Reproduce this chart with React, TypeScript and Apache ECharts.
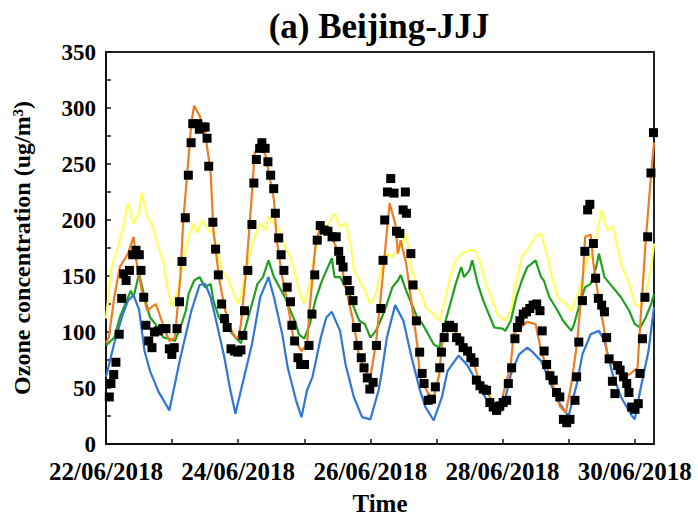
import React, { useEffect, useRef } from "react";
import * as echarts from "echarts";

// Time is expressed in hours since 22/06/2018 00:00
const dateLabels = ["22/06/2018", "24/06/2018", "26/06/2018", "28/06/2018", "30/06/2018"];
const yTickLabels = [0, 50, 100, 150, 200, 250, 300, 350];

const obsHours = [1.2, 1.8, 2.8, 3.6, 4.8, 5.7, 6.4, 7.3, 8.5, 9.7, 10.9, 12.1, 12.7, 13.7, 14.5, 15.5, 16.7, 17.6, 19, 20.6, 21.8, 23, 23.9, 24.8, 25.8, 26.7, 27.6, 28.8, 29.9, 30.9, 31.5, 33.3, 33.9, 35.2, 36, 36.7, 37.3, 38.8, 39.8, 40.8, 42, 43, 44, 45.4, 46.7, 47.9, 49, 49.7, 50.3, 51.5, 53, 53.7, 54.6, 55.8, 56.6, 57.8, 58.8, 59.8, 60.9, 61.5, 62.7, 63.6, 64.6, 65.8, 67, 67.5, 68.5, 69.7, 70.7, 72.1, 73.7, 74.8, 75.8, 76.7, 77.8, 79.2, 80.6, 82.1, 83.6, 84.5, 85.2, 86.1, 87.6, 88.5, 89.7, 90.9, 91.5, 92.7, 93.7, 94.9, 95.8, 97, 98.2, 99.8, 100.6, 101.2, 102.2, 103.4, 104.6, 105.5, 106.7, 107.9, 108.7, 109.1, 110.7, 111.5, 112.7, 113.9, 114.8, 115.5, 117, 118.2, 119.6, 121.2, 121.8, 122.8, 123.6, 124.8, 126.1, 127.3, 128.5, 129.7, 131.3, 132.5, 133.7, 134.5, 135.8, 137, 138.2, 139.4, 140.6, 141.8, 143, 144.2, 145.5, 146.1, 147.3, 148.5, 149.4, 150.3, 151.5, 152.7, 153.9, 155.1, 156.4, 157.6, 158.4, 159.1, 160, 161.2, 162.4, 163.6, 164.8, 166.1, 167.3, 168.5, 170.3, 170.9, 171.7, 173, 173.9, 174.9, 175.7, 177, 177.8, 178.8, 180, 181, 181.8, 182.7, 183.9, 184.8, 185.8, 186.7, 187.9, 189.1, 189.9, 190.9, 192.1, 193.3, 193.9, 194.8, 195.7, 196.7, 197.9, 198.8];
const obsValues = [42, 54, 62, 73, 98, 130, 152, 146, 155, 169, 173, 169, 155, 131, 106, 92, 86, 100, 101, 103, 103, 85, 80, 86, 103, 127, 163, 202, 240, 269, 286, 286, 281, 283, 283, 273, 248, 198, 174, 151, 125, 112, 104, 85, 83, 82, 84, 97, 119, 155, 196, 233, 254, 264, 269, 264, 252, 240, 228, 206, 184, 169, 155, 140, 127, 106, 92, 77, 71, 71, 88, 116, 151, 182, 195, 191, 190, 185, 185, 172, 164, 158, 146, 137, 128, 104, 88, 77, 68, 59, 49, 55, 88, 121, 164, 200, 225, 237, 224, 190, 188, 209, 225, 206, 170, 142, 110, 82, 63, 54, 39, 40, 51, 68, 82, 95, 104, 106, 104, 95, 92, 86, 83, 77, 73, 57, 52, 49, 48, 37, 33, 30, 34, 37, 39, 54, 68, 94, 104, 110, 116, 118, 121, 124, 125, 119, 101, 83, 71, 61, 57, 46, 42, 22, 19, 22, 39, 60, 91, 128, 172, 209, 214, 179, 148, 130, 124, 118, 95, 76, 56, 45, 70, 66, 60, 54, 46, 33, 31, 36, 63, 94, 131, 185, 242, 278];

const orangeHours = [0, 1, 3, 5, 8, 10, 11, 13, 15, 18, 19, 21, 23, 25, 27, 28, 30, 31, 32, 34, 36, 38, 39, 41, 43, 45, 47, 48, 49, 51, 53, 54, 56, 58, 61, 62, 64, 66, 68, 71, 73, 74, 76, 78, 80, 82, 85, 87, 90, 92, 95, 96, 98, 100, 102, 103, 105, 106, 107, 109, 111, 113, 114, 117, 119, 121, 122, 124, 126, 128, 130, 133, 135, 138, 140, 142, 144, 147, 148, 151, 153, 156, 158, 161, 163, 165, 167, 169, 171, 173, 174, 176, 177, 179, 181, 182, 184, 186, 188, 190, 193, 194, 196, 198, 199];
const orangeValues = [90, 95, 131, 158, 170, 185, 164, 137, 119, 125, 119, 104, 92, 95, 149, 197, 257, 287, 302, 293, 278, 242, 191, 149, 122, 104, 95, 95, 107, 158, 224, 260, 269, 257, 218, 182, 149, 125, 95, 83, 89, 122, 176, 197, 191, 185, 167, 140, 107, 77, 62, 60, 89, 137, 190, 215, 197, 170, 182, 161, 125, 89, 60, 45, 42, 62, 89, 101, 104, 95, 86, 77, 60, 48, 39, 33, 42, 71, 98, 105, 109, 107, 83, 62, 48, 33, 28, 54, 89, 143, 185, 187, 161, 128, 101, 80, 71, 70, 60, 62, 68, 107, 182, 242, 269];

const yellowHours = [0, 2, 4, 6, 8, 10, 12, 13, 15, 17, 19, 21, 22, 24, 26, 28, 30, 32, 33, 35, 37, 39, 41, 42, 44, 46, 48, 50, 52, 54, 56, 58, 59, 61, 63, 65, 67, 69, 70, 72, 74, 76, 78, 79, 81, 83, 85, 87, 89, 90, 92, 94, 96, 98, 100, 102, 104, 106, 107, 109, 111, 113, 115, 116, 119, 121, 123, 125, 127, 129, 132, 134, 136, 138, 140, 142, 145, 147, 149, 151, 153, 156, 158, 160, 162, 164, 167, 169, 171, 173, 175, 176, 178, 180, 182, 184, 186, 187, 190, 192, 194, 196, 198, 199];
const yellowValues = [112, 158, 173, 191, 215, 197, 206, 224, 203, 194, 176, 161, 143, 122, 137, 161, 185, 197, 188, 200, 191, 188, 167, 155, 149, 137, 125, 143, 167, 185, 197, 191, 203, 197, 191, 176, 167, 149, 137, 125, 143, 173, 188, 191, 197, 206, 194, 197, 176, 155, 146, 137, 125, 134, 158, 170, 167, 173, 176, 188, 155, 140, 131, 122, 116, 110, 128, 149, 164, 170, 173, 173, 161, 143, 131, 116, 110, 119, 146, 167, 173, 185, 188, 170, 149, 131, 125, 119, 131, 149, 167, 167, 185, 209, 191, 194, 173, 161, 143, 125, 122, 134, 158, 179];

const greenHours = [0, 3, 5, 7, 9, 10, 12, 14, 16, 18, 19, 21, 23, 25, 27, 29, 30, 32, 34, 36, 38, 39, 41, 43, 45, 47, 49, 51, 53, 55, 57, 59, 61, 63, 65, 67, 69, 70, 72, 74, 76, 78, 79, 82, 83, 85, 87, 89, 90, 92, 94, 96, 98, 100, 102, 104, 106, 107, 109, 111, 113, 115, 117, 119, 121, 123, 125, 127, 129, 130, 132, 133, 135, 137, 139, 141, 144, 145, 147, 149, 151, 153, 156, 158, 159, 161, 164, 166, 169, 170, 172, 174, 176, 178, 179, 181, 183, 185, 187, 190, 192, 194, 196, 198, 199];
const greenValues = [88, 95, 113, 125, 137, 131, 152, 131, 113, 107, 101, 95, 94, 92, 104, 119, 134, 146, 149, 140, 143, 128, 113, 107, 101, 95, 90, 107, 125, 143, 149, 164, 149, 140, 131, 119, 107, 98, 94, 107, 128, 143, 149, 166, 149, 149, 140, 131, 122, 110, 107, 95, 101, 112, 125, 140, 146, 151, 137, 125, 113, 107, 98, 89, 86, 107, 125, 143, 158, 149, 155, 164, 143, 128, 116, 104, 103, 101, 110, 131, 146, 158, 164, 149, 146, 131, 119, 110, 101, 107, 125, 140, 143, 158, 170, 149, 143, 137, 131, 119, 107, 104, 113, 125, 134];

const blueHours = [0, 3, 6, 8, 10, 12, 14, 16, 19, 23, 27, 31, 34, 36, 38, 40, 43, 45, 47, 49, 53, 56, 59, 61, 64, 66, 69, 71, 73, 75, 78, 80, 82, 85, 87, 90, 93, 96, 99, 100, 102, 105, 108, 111, 114, 116, 119, 122, 124, 128, 131, 135, 139, 142, 144, 147, 150, 153, 155, 158, 161, 164, 167, 168, 171, 173, 176, 179, 181, 184, 187, 191, 192, 194, 197, 199];
const blueValues = [60, 90, 115, 128, 133, 120, 83, 65, 47, 30, 77, 119, 142, 143, 131, 110, 77, 50, 27, 48, 89, 131, 149, 131, 98, 68, 39, 24, 48, 60, 95, 113, 118, 101, 71, 42, 24, 22, 48, 62, 95, 124, 110, 77, 48, 33, 21, 42, 65, 79, 71, 54, 36, 27, 30, 62, 80, 86, 82, 74, 57, 39, 28, 25, 54, 80, 98, 101, 92, 62, 42, 25, 22, 48, 83, 122];

const pairs = (xs: number[], ys: number[]) => xs.map((x, i) => [x, ys[i]]);

const FONT = "Liberation Serif";

export default function App() {
  const ref = useRef<HTMLDivElement>(null);
  useEffect(() => {
    if (!ref.current) return;
    const chart = echarts.init(ref.current, null, { renderer: "svg" });
    const lineSeries = (name: string, xs: number[], ys: number[], color: string) => ({
      name,
      type: "line",
      data: pairs(xs, ys),
      showSymbol: false,
      symbol: "none",
      lineStyle: { color, width: 2.2 },
      itemStyle: { color },
      z: 2,
    });
    chart.setOption({
      animation: false,
      backgroundColor: "#ffffff",
      grid: {
        left: 106,
        right: 44,
        top: 52,
        bottom: 76,
        show: true,
        borderColor: "#222",
        borderWidth: 2,
        backgroundColor: "transparent",
      },
      graphic: [
        {
          type: "text",
          x: 379,
          y: 26,
          style: {
            text: "(a) Beijing-JJJ",
            font: `bold 35px "${FONT}"`,
            fill: "#000",
            textAlign: "center",
            textVerticalAlign: "middle",
          },
        },
      ],
      xAxis: {
        type: "value",
        min: 0,
        max: 199,
        interval: 24,
        name: "Time",
        nameLocation: "middle",
        nameGap: 47,
        nameTextStyle: { fontFamily: FONT, fontWeight: "bold", fontSize: 25, color: "#000" },
        axisLine: { show: true, lineStyle: { color: "#111", width: 2 } },
        axisTick: { show: true, inside: true, length: 5, lineStyle: { color: "#111", width: 1.5 } },
        axisLabel: {
          fontFamily: FONT,
          fontWeight: "bold",
          fontSize: 25,
          lineHeight: 18,
          color: "#000",
          margin: 18,
          showMaxLabel: false,
          formatter: (v: number) => (v % 48 === 0 ? dateLabels[v / 48] ?? "" : ""),
        },
        splitLine: { show: false },
      },
      yAxis: {
        type: "value",
        min: 0,
        max: 350,
        interval: 25,
        name: "Ozone concentration (ug/m³)",
        nameLocation: "middle",
        nameGap: 72,
        nameTextStyle: { fontFamily: FONT, fontWeight: "bold", fontSize: 24, color: "#000" },
        axisLine: { show: true, lineStyle: { color: "#111", width: 2 } },
        axisTick: { show: true, inside: true, length: 5, lineStyle: { color: "#111", width: 1.5 } },
        axisLabel: {
          fontFamily: FONT,
          fontWeight: "bold",
          fontSize: 23,
          lineHeight: 16,
          color: "#000",
          margin: 10,
          formatter: (v: number) => (yTickLabels.includes(v) ? String(v) : ""),
        },
        splitLine: { show: false },
      },
      series: [
        lineSeries("Yellow", yellowHours, yellowValues, "#FFFF5C"),
        lineSeries("Green", greenHours, greenValues, "#1FA01F"),
        lineSeries("Blue", blueHours, blueValues, "#2E77D6"),
        lineSeries("Orange", orangeHours, orangeValues, "#EE7D22"),
        {
          name: "Observation",
          type: "scatter",
          data: pairs(obsHours, obsValues),
          symbol: "rect",
          symbolSize: 9,
          itemStyle: { color: "#000", opacity: 1 },
          z: 5,
        },
      ],
    });
    return () => chart.dispose();
  }, []);
  return (
    <div
      ref={ref}
      style={{ position: "fixed", left: 0, top: 0, width: 698, height: 521, background: "#fff" }}
    />
  );
}
